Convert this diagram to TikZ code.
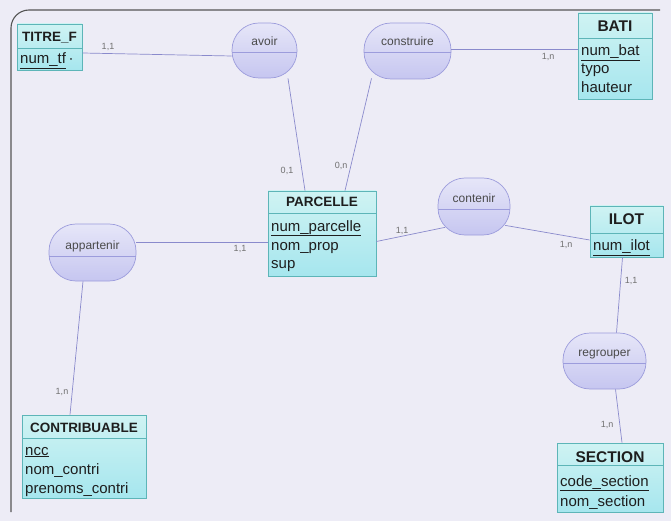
\documentclass[tikz,border=0pt]{standalone}
\usepackage{fontspec}
\setmainfont{Liberation Sans}
\usetikzlibrary{calc}
\definecolor{bg}{HTML}{EDECF6}
\definecolor{entline}{HTML}{5DB5B8}
\definecolor{enttop}{HTML}{CFF3F3}
\definecolor{entbot}{HTML}{A6E6EE}
\definecolor{asline}{HTML}{9C9CDC}
\definecolor{astop}{HTML}{E6E6F8}
\definecolor{asbot}{HTML}{C6C6F0}
\definecolor{lnk}{HTML}{8A8ACC}
\definecolor{txt}{HTML}{1E1E1E}
\definecolor{atxt}{HTML}{4A4A4A}
\definecolor{card}{HTML}{707070}
\definecolor{frame}{HTML}{555555}
\begin{document}
\begin{tikzpicture}[x=1pt,y=-1pt,
  ent/.style={draw=entline, line width=0.8pt, top color=enttop, bottom color=entbot, inner sep=0pt, rectangle},
  assoc/.style={draw=asline, line width=0.7pt, top color=astop, bottom color=asbot, inner sep=0pt, rectangle, rounded corners=27pt},
  sepent/.style={draw=entline, line width=0.8pt},
  sepas/.style={draw=asline, line width=0.7pt},
  etitle/.style={font=\fontsize{13.5}{14}\selectfont\bfseries, text=txt, inner sep=0pt, anchor=base},
  btitle/.style={font=\fontsize{15.5}{16}\selectfont\bfseries, text=txt, inner sep=0pt, anchor=base},
  attr/.style={font=\fontsize{15}{16}\selectfont, text=txt, inner sep=0pt, anchor=base west},
  alabel/.style={font=\fontsize{12}{13}\selectfont, text=atxt, inner sep=0pt, anchor=base},
  cardl/.style={font=\fontsize{9}{10}\selectfont, text=card, inner sep=0pt},
  link/.style={draw=lnk, line width=0.7pt}
]
\useasboundingbox (0,0) rectangle (671,521);
\fill[bg] (0,0) rectangle (671,521);
% frame
\draw[frame, line width=1.1pt, rounded corners=18pt] (11,512) -- (11,10) -- (660,10);

% entities
\node[ent, minimum width=65pt, minimum height=46pt] (titre) at (49.5,47) {};
\draw[sepent] (17,48) -- (82,48);
\node[etitle] (titreT) at (49.5,42) {TITRE\_F};
\node[attr] (titreA) at (20,64) {\underline{num\_tf}\,\textperiodcentered};

\node[ent, minimum width=74pt, minimum height=86pt] (bati) at (615,56) {};
\draw[sepent] (578,38) -- (652,38);
\node[btitle] (batiT) at (615,32) {BATI};
\node[attr] (batiA) at (581,56) {\underline{num\_bat}};
\node[attr] (batiB) at (581,74) {typo};
\node[attr] (batiC) at (581,93) {hauteur};

\node[ent, minimum width=108pt, minimum height=85pt] (parcelle) at (322,233.5) {};
\draw[sepent] (268,213) -- (376,213);
\node[etitle] (parT) at (322,207) {PARCELLE};
\node[attr] (parA) at (271,231) {\underline{num\_parcelle}};
\node[attr] (parB) at (271,250) {nom\_prop};
\node[attr] (parC) at (271,268) {sup};

\node[ent, minimum width=73pt, minimum height=51pt] (ilot) at (626.5,231.5) {};
\draw[sepent] (590,233) -- (663,233);
\node[btitle] (ilotT) at (626.5,225) {ILOT};
\node[attr] (ilotA) at (593,251) {\underline{num\_ilot}};

\node[ent, minimum width=124pt, minimum height=83pt] (contrib) at (84,456.5) {};
\draw[sepent] (22,438) -- (146,438);
\node[etitle] (conT) at (84,432) {CONTRIBUABLE};
\node[attr] (conA) at (25,455) {\underline{ncc}};
\node[attr] (conB) at (25,474) {nom\_contri};
\node[attr] (conC) at (25,493) {prenoms\_contri};

\node[ent, minimum width=106pt, minimum height=69pt] (section) at (610,477.5) {};
\draw[sepent] (557,465) -- (663,465);
\node[btitle] (secT) at (610,462) {SECTION};
\node[attr] (secA) at (560,486) {\underline{code\_section}};
\node[attr] (secB) at (560,506) {nom\_section};

% associations
\node[assoc, minimum width=65pt, minimum height=55pt] (avoir) at (264.5,50.5) {};
\draw[sepas] (232,52) -- (297,52);
\node[alabel] (avoirT) at (264.5,46) {avoir};

\node[assoc, minimum width=87pt, minimum height=56pt] (construire) at (407.5,51) {};
\draw[sepas] (364,52) -- (451,52);
\node[alabel] (consT) at (407.5,46) {construire};

\node[assoc, minimum width=72pt, minimum height=57pt] (contenir) at (474,206.5) {};
\draw[sepas] (438,209) -- (510,209);
\node[alabel] (contT) at (474,203) {contenir};

\node[assoc, minimum width=87pt, minimum height=57pt] (appartenir) at (92.5,252.5) {};
\draw[sepas] (49,256) -- (136,256);
\node[alabel] (appT) at (92.5,249) {appartenir};

\node[assoc, minimum width=83pt, minimum height=56pt] (regrouper) at (604.5,361) {};
\draw[sepas] (563,363) -- (646,363);
\node[alabel] (regT) at (604.5,356) {regrouper};

% links
\draw[link] ($(titre.east)+(0,6)$) -- ($(avoir.west)+(0,5.5)$);
\draw[link] ($(avoir.south)+(23.5,0)$) -- ($(parcelle.north)+(-17,0)$);
\draw[link] ($(construire.south)+(-36,-1)$) -- ($(parcelle.north)+(23,0)$);
\draw[link] ($(construire.east)+(0,-2)$) -- ($(bati.west)+(0,-7)$);
\draw[link] ($(appartenir.east)+(0,-10.5)$) -- ($(parcelle.west)+(0,8.5)$);
\draw[link] ($(appartenir.south)+(-9.5,0)$) -- ($(contrib.north)+(-14,0)$);
\draw[link] ($(parcelle.east)+(0,8)$) -- ($(contenir.south)+(-29,-8)$);
\draw[link] ($(contenir.south)+(31,-10)$) -- ($(ilot.west)+(0,8.5)$);
\draw[link] ($(ilot.south)+(-4,0)$) -- ($(regrouper.north)+(12,0)$);
\draw[link] ($(regrouper.south)+(11,0)$) -- ($(section.north)+(12,0)$);

% cardinalities
\node[cardl] (c1) at (108,47) {1,1};
\node[cardl] (c2) at (287,171) {0,1};
\node[cardl] (c3) at (341,166) {0,n};
\node[cardl] (c4) at (548,57) {1,n};
\node[cardl] (c5) at (240,249) {1,1};
\node[cardl] (c6) at (62,392) {1,n};
\node[cardl] (c7) at (402,231) {1,1};
\node[cardl] (c8) at (566,245) {1,n};
\node[cardl] (c9) at (631,281) {1,1};
\node[cardl] (c10) at (607,425) {1,n};
\end{tikzpicture}
\end{document}
